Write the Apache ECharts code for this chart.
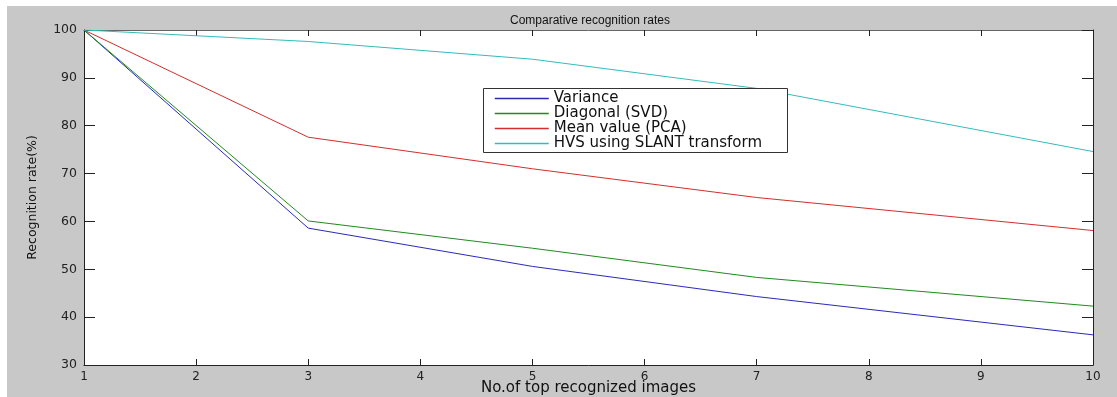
<!DOCTYPE html>
<html>
<head>
<meta charset="utf-8">
<script src="https://cdn.jsdelivr.net/npm/echarts@6/dist/echarts.min.js"></script>
<style>
html,body{margin:0;padding:0;background:#fff;width:1117px;height:397px;overflow:hidden;}
#chart{position:absolute;left:7px;top:6px;width:1110px;height:391px;background:#c8c8c8;}
</style>
</head>
<body>
<div id="chart"></div>
<script>
const titleText = 'Comparative recognition rates';
const xAxisName = 'No.of top recognized images';
const yAxisName = 'Recognition rate(%)';
const xValues = [1, 3, 5, 7, 10];
const seriesNames = ['Variance', 'Diagonal (SVD)', 'Mean value (PCA)', 'HVS using SLANT transform'];
const variance = [100, 58.6, 50.6, 44.3, 36.3];
const diagonal = [100, 60.1, 54.4, 48.3, 42.3];
const meanValue = [100, 77.6, 71.0, 65.0, 58.1];
const hvs = [100, 97.6, 93.9, 87.8, 74.6];
const seriesValues = [variance, diagonal, meanValue, hvs];
const colors = ['#2a2ab8', '#1f8a1f', '#d42d2d', '#33bcbc'];

const chart = echarts.init(document.getElementById('chart'), null, {renderer: 'canvas'});
const font = 'DejaVu Sans';
const baseX = {
  type: 'value', min: 1, max: 10, interval: 1,
  splitLine: {show: false},
  axisTick: {inside: true, length: 6, lineStyle: {color: '#222'}}
};
const baseY = {
  type: 'value', min: 30, max: 100, interval: 10,
  splitLine: {show: false},
  axisTick: {inside: true, length: 11, lineStyle: {color: '#222'}}
};
chart.setOption({
  animation: false,
  color: colors,
  backgroundColor: 'transparent',
  title: {
    text: titleText, left: 578, top: 4, textAlign: 'center',
    textStyle: {fontFamily: 'Liberation Sans', fontSize: 12, fontWeight: 'normal', color: '#111'}
  },
  grid: {left: 77, right: 24, top: 24, bottom: 32, show: true, backgroundColor: '#fff', borderWidth: 0,
         containLabel: false, outerBoundsMode: 'none'},
  legend: {
    orient: 'vertical', left: 487, top: 85, padding: 0,
    itemWidth: 54, itemHeight: 15, itemGap: 0, z: 5,
    textStyle: {fontFamily: font, fontSize: 15, lineHeight: 15, color: '#111'},
    data: seriesNames.map((n, i) => ({
      name: n,
      itemStyle: {opacity: 0},
      lineStyle: {color: colors[i], width: 1.5}
    }))
  },
  graphic: [{
    type: 'rect', z: 4,
    shape: {x: 476.5, y: 82.5, width: 304, height: 64},
    style: {fill: '#fff', stroke: '#333', lineWidth: 1}
  }],
  xAxis: [
    Object.assign({}, baseX, {
      position: 'bottom', name: xAxisName, nameLocation: 'middle', nameGap: 16,
      nameMoveOverlap: false,
      nameTextStyle: {fontFamily: font, fontSize: 15, color: '#111'},
      axisLine: {lineStyle: {color: '#222', width: 1}},
      axisLabel: {margin: 6, fontFamily: font, fontSize: 12, color: '#222'}
    }),
    Object.assign({}, baseX, {
      position: 'top',
      axisLine: {lineStyle: {color: '#666', width: 1}},
      axisLabel: {show: false}
    })
  ],
  yAxis: [
    Object.assign({}, baseY, {
      position: 'left', name: yAxisName, nameLocation: 'middle', nameGap: 45, nameRotate: 90,
      nameMoveOverlap: false,
      nameTextStyle: {fontFamily: font, fontSize: 12.5, color: '#111'},
      axisLine: {lineStyle: {color: '#222', width: 1}},
      axisLabel: {margin: 7, fontFamily: font, fontSize: 12.5, color: '#222'}
    }),
    Object.assign({}, baseY, {
      position: 'right',
      axisLine: {lineStyle: {color: '#222', width: 1}},
      axisLabel: {show: false}
    })
  ],
  series: seriesNames.map((name, i) => ({
    name: name, type: 'line', showSymbol: false, symbol: 'none',
    xAxisIndex: 0, yAxisIndex: 0,
    color: colors[i],
    data: xValues.map((x, j) => [x, seriesValues[i][j]]),
    lineStyle: {color: colors[i], width: 1},
    itemStyle: {color: colors[i]},
    z: 2
  }))
});
</script>
</body>
</html>
